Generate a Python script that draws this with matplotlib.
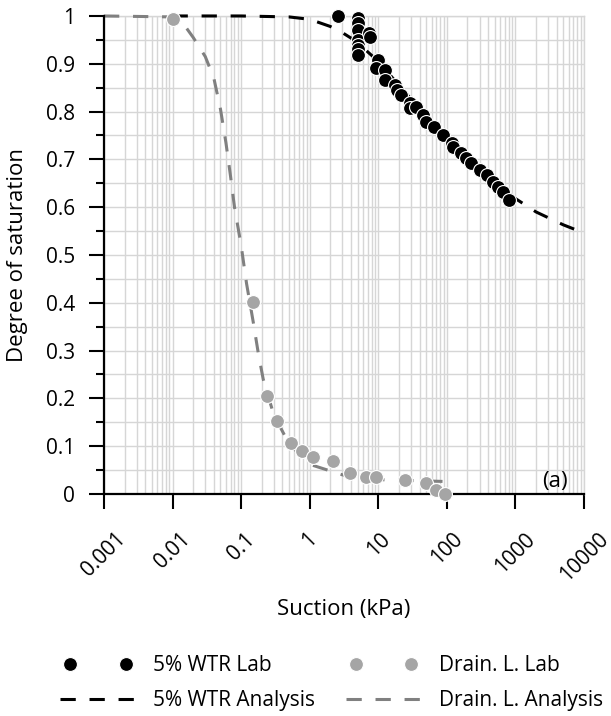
import matplotlib
matplotlib.use("Agg")
import matplotlib.pyplot as plt
from matplotlib.legend_handler import HandlerLine2D
from matplotlib.ticker import FixedLocator, NullFormatter, LogLocator

plt.rcParams['font.family'] = ['Open Sans', 'DejaVu Sans']

# 5% WTR lab points (suction kPa, degree of saturation)
wtr_lab_x = [2.55, 5.0, 5.0, 5.1, 5.0, 5.1, 5.0, 5.0, 7.3, 7.5, 10.0, 9.4, 12.4, 12.4,
             17.4, 19.0, 21.7, 28.7, 28.7, 36.0, 45.0, 50.0, 66.0, 87.0, 117.0, 123.0,
             163.0, 193.0, 228.0, 300.0, 380.0, 472.0, 560.0, 660.0, 800.0]
wtr_lab_y = [1.0, 0.995, 0.985, 0.97, 0.95, 0.94, 0.93, 0.918, 0.965, 0.955, 0.908, 0.891,
             0.887, 0.866, 0.856, 0.845, 0.835, 0.818, 0.807, 0.81, 0.793, 0.779, 0.768,
             0.751, 0.734, 0.726, 0.713, 0.703, 0.692, 0.678, 0.667, 0.653, 0.643, 0.632,
             0.615]

# 5% WTR analysis curve
wtr_fit_x = [0.01, 0.1, 0.5, 1, 2, 3, 5, 7, 10, 20, 50, 100, 200, 500, 1000, 2000, 5000, 10000]
wtr_fit_y = [1.0, 1.0, 0.998, 0.993, 0.978, 0.965, 0.945, 0.925, 0.905, 0.855, 0.79, 0.745,
             0.70, 0.65, 0.618, 0.59, 0.563, 0.546]

# Drainage layer lab points
drain_lab_x = [0.01, 0.149, 0.241, 0.338, 0.54, 0.77, 1.12, 2.19, 3.92, 6.7, 9.4, 24.3, 50.0, 70.0, 93.0]
drain_lab_y = [0.993, 0.402, 0.205, 0.153, 0.106, 0.089, 0.078, 0.069, 0.043, 0.036, 0.035,
               0.029, 0.022, 0.008, 0.0]

# Drainage layer analysis curve
drain_fit_x = [0.001, 0.01, 0.015, 0.02, 0.03, 0.04, 0.05, 0.06, 0.07, 0.08, 0.1, 0.12, 0.15,
               0.18, 0.21, 0.3, 0.5, 1, 3, 10, 100]
drain_fit_y = [1.0, 0.998, 0.98, 0.955, 0.915, 0.87, 0.805, 0.735, 0.665, 0.60, 0.52, 0.44,
               0.36, 0.29, 0.24, 0.165, 0.105, 0.062, 0.04, 0.03, 0.026]

x_ticks = [0.001, 0.01, 0.1, 1, 10, 100, 1000, 10000]
x_labels = ['0.001', '0.01', '0.1', '1', '10', '100', '1000', '10000']
y_ticks = [0, 0.1, 0.2, 0.3, 0.4, 0.5, 0.6, 0.7, 0.8, 0.9, 1]
y_labels = ['0', '0.1', '0.2', '0.3', '0.4', '0.5', '0.6', '0.7', '0.8', '0.9', '1']

fig = plt.figure(figsize=(6.11, 7.16), dpi=100)
ax = fig.add_axes([0.1702, 0.3101, 0.7856, 0.6676])

wtr_pts, = ax.plot(wtr_lab_x, wtr_lab_y, 'o', color='black', markersize=10, markeredgecolor='white',
                   markeredgewidth=0.8, label='5% WTR Lab', zorder=5, clip_on=False)
wtr_line, = ax.plot(wtr_fit_x, wtr_fit_y, color='black', linewidth=2.2, dashes=(5, 4.5),
                    label='5% WTR Analysis', zorder=3, clip_on=False)
drain_pts, = ax.plot(drain_lab_x, drain_lab_y, 'o', color='#a5a5a5', markersize=10, markeredgecolor='white',
                     markeredgewidth=0.8, label='Drain. L. Lab', zorder=5, clip_on=False)
drain_line, = ax.plot(drain_fit_x, drain_fit_y, color='#808080', linewidth=2.2, dashes=(5, 4.5),
                      label='Drain. L. Analysis', zorder=4, clip_on=False)

ax.set_xscale('log')
ax.set_xlim(0.001, 10000)
ax.set_ylim(0, 1)
ax.set_xticks(x_ticks)
ax.set_xticklabels(x_labels, rotation=45)
ax.xaxis.set_minor_locator(LogLocator(base=10, subs=range(2, 10), numticks=20))
ax.xaxis.set_minor_formatter(NullFormatter())
ax.set_yticks(y_ticks)
ax.set_yticklabels(y_labels)
ax.yaxis.set_minor_locator(FixedLocator([0.05 + 0.1 * i for i in range(10)]))

ax.grid(which='both', color='#d6d6d6', linewidth=1.0, zorder=0)
ax.set_axisbelow(True)
ax.tick_params(axis='x', which='major', length=11, width=1.5, pad=14, labelsize=15, direction='out')
ax.tick_params(axis='x', which='minor', length=0)
ax.tick_params(axis='y', which='major', length=11, width=1.5, pad=10, labelsize=15, direction='out')
ax.tick_params(axis='y', which='minor', length=6, width=1.5, direction='out')

for s in ['left', 'bottom']:
    ax.spines[s].set_color('black')
    ax.spines[s].set_linewidth(1.6)
    ax.spines[s].set_zorder(4)
for s in ['top', 'right']:
    ax.spines[s].set_color('#d6d6d6')
    ax.spines[s].set_linewidth(1.0)

ax.set_xlabel('Suction (kPa)', fontsize=16)
ax.set_ylabel('Degree of saturation', fontsize=16)
ax.xaxis.set_label_coords(0.5, -0.219)
ax.yaxis.set_label_coords(-0.158, 0.5)

ax.text(0.94, 0.027, '(a)', transform=ax.transAxes, fontsize=16, ha='center', va='center')

# markers sit inset in the handle, dashed lines run the full handle length
pts_handler = HandlerLine2D(marker_pad=0.5)
line_handler = HandlerLine2D(marker_pad=0)
fig.legend(handles=[wtr_pts, wtr_line, drain_pts, drain_line],
           loc='upper left', bbox_to_anchor=(0.098, 0.085), ncol=2, frameon=False,
           numpoints=2, handlelength=3.65, handletextpad=0.8, columnspacing=1.5,
           labelspacing=0.68, fontsize=15, borderpad=0, borderaxespad=0,
           handler_map={wtr_pts: pts_handler, drain_pts: pts_handler,
                        wtr_line: line_handler, drain_line: line_handler})

fig.savefig('out.png', dpi=100)
